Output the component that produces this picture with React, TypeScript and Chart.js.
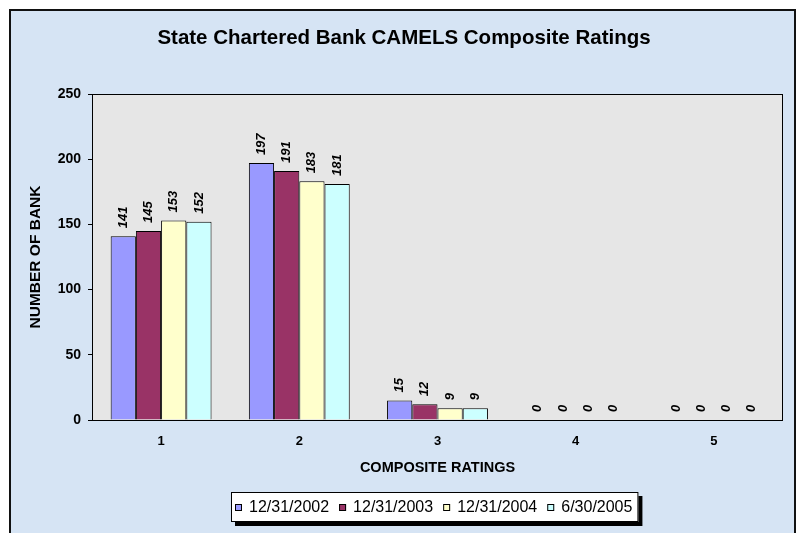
import React, { useEffect, useRef } from 'react';
import { Chart, registerables } from 'chart.js';

Chart.register(...registerables);

const chartTitle = 'State Chartered Bank CAMELS Composite Ratings';
const xAxisTitle = 'COMPOSITE RATINGS';
const yAxisTitle = 'NUMBER OF BANK';
const categories = ['1', '2', '3', '4', '5'];
const seriesLabels = ['12/31/2002', '12/31/2003', '12/31/2004', '6/30/2005'];
const values2002 = [141, 197, 15, 0, 0];
const values2003 = [145, 191, 12, 0, 0];
const values2004 = [153, 183, 9, 0, 0];
const values2005 = [152, 181, 9, 0, 0];
const yMin = 0;
const yMax = 250;
const yStep = 50;
const seriesColors = ['#9999FF', '#993366', '#FFFFCC', '#CCFFFF'];

const FONT = '"Liberation Sans", Arial, Helvetica, sans-serif';
const W = 797;
const H = 533;

const backgroundPlugin = {
  id: 'bgFrame',
  beforeDraw(chart: any) {
    const { ctx, chartArea } = chart;
    ctx.save();
    ctx.fillStyle = '#ffffff';
    ctx.fillRect(0, 0, W, H);
    ctx.fillStyle = '#d6e4f4';
    ctx.fillRect(10, 10, W - 11, H);
    ctx.strokeStyle = '#111111';
    ctx.lineWidth = 2;
    ctx.strokeRect(10, 10, W - 12, H + 10);
    ctx.fillStyle = '#e6e6e6';
    ctx.fillRect(chartArea.left, chartArea.top, chartArea.right - chartArea.left, chartArea.bottom - chartArea.top);
    ctx.restore();
  },
};

const frameAndLabelsPlugin = {
  id: 'frameLabels',
  afterDatasetsDraw(chart: any) {
    const { ctx, chartArea } = chart;
    ctx.save();
    ctx.strokeStyle = '#000000';
    ctx.lineWidth = 1;
    ctx.strokeRect(
      Math.round(chartArea.left) + 0.5,
      Math.round(chartArea.top) + 0.5,
      Math.round(chartArea.right - chartArea.left) - 1,
      Math.round(chartArea.bottom - chartArea.top)
    );
    ctx.fillStyle = '#000000';
    ctx.font = 'italic bold 13px ' + FONT;
    ctx.textAlign = 'left';
    ctx.textBaseline = 'middle';
    chart.data.datasets.forEach((ds: any, di: number) => {
      const meta = chart.getDatasetMeta(di);
      meta.data.forEach((bar: any, i: number) => {
        ctx.save();
        ctx.translate(bar.x, bar.y - 8);
        ctx.rotate(-Math.PI / 2);
        ctx.fillText(String(ds.data[i]), 0, 0);
        ctx.restore();
      });
    });
    ctx.restore();
  },
};

const legendPlugin = {
  id: 'boxLegend',
  afterDraw(chart: any) {
    const { ctx, chartArea } = chart;
    ctx.save();
    ctx.font = '16px ' + FONT;
    const sq = 7;
    const gapSqText = 7;
    const gapItems = 10;
    const widths = chart.data.datasets.map((d: any) => ctx.measureText(d.label).width);
    let total = 0;
    widths.forEach((w: number, i: number) => {
      total += sq + gapSqText + w + (i > 0 ? gapItems : 0);
    });
    const padL = 4;
    const padR = 6;
    const boxW = total + padL + padR;
    const cx = (chartArea.left + chartArea.right) / 2 - 3;
    const left = Math.round(cx - boxW / 2);
    const top = 492;
    const boxH = 30;
    ctx.fillStyle = '#000000';
    ctx.fillRect(left + 4, top + 4, boxW, boxH);
    ctx.fillStyle = '#ffffff';
    ctx.fillRect(left, top, boxW, boxH);
    ctx.strokeStyle = '#000000';
    ctx.lineWidth = 1;
    ctx.strokeRect(left + 0.5, top + 0.5, boxW - 1, boxH - 1);
    let x = left + padL;
    const cy = top + boxH / 2;
    chart.data.datasets.forEach((d: any, i: number) => {
      ctx.fillStyle = d.backgroundColor;
      ctx.fillRect(x, cy - 3, sq, sq);
      ctx.strokeStyle = '#000000';
      ctx.strokeRect(x + 0.5, cy - 3 + 0.5, sq - 1, sq - 1);
      x += sq + gapSqText;
      ctx.fillStyle = '#000000';
      ctx.textAlign = 'left';
      ctx.textBaseline = 'middle';
      ctx.fillText(d.label, x, cy + 1);
      x += widths[i] + gapItems;
    });
    ctx.restore();
  },
};

export default function App() {
  const canvasRef = useRef<HTMLCanvasElement | null>(null);

  useEffect(() => {
    const canvas = canvasRef.current;
    if (!canvas) return;
    const seriesValues = [values2002, values2003, values2004, values2005];
    const chart = new Chart(canvas, {
      type: 'bar',
      data: {
        labels: categories,
        datasets: seriesLabels.map((label, i) => ({
          label,
          data: seriesValues[i],
          backgroundColor: seriesColors[i],
          borderColor: '#000000',
          borderWidth: 1,
          barPercentage: 1,
          categoryPercentage: 0.73,
        })),
      },
      options: {
        responsive: false,
        animation: false,
        devicePixelRatio: 1,
        layout: { padding: { left: 25, right: 14, top: 0, bottom: 53 } },
        plugins: {
          legend: { display: false },
          tooltip: { enabled: false },
          title: {
            display: true,
            text: chartTitle,
            color: '#000000',
            font: { family: FONT, size: 20.5, weight: 'bold' },
            padding: { top: 26.2, bottom: 43.2 },
          },
        },
        scales: {
          x: {
            afterFit: (s: any) => {
              s.height = 60;
            },
            grid: { display: false, drawTicks: false },
            border: { display: false },
            ticks: {
              color: '#000000',
              font: { family: FONT, size: 13, weight: 'bold' },
              padding: 14,
              maxRotation: 0,
            },
            title: {
              display: true,
              text: xAxisTitle,
              color: '#000000',
              font: { family: FONT, size: 14.5, weight: 'bold' },
              padding: { top: 0, bottom: 3 },
            },
          },
          y: {
            min: yMin,
            max: yMax,
            afterFit: (s: any) => {
              s.width = 67;
            },
            grid: {
              display: true,
              drawOnChartArea: false,
              drawTicks: true,
              tickLength: 4,
              color: '#000000',
            },
            border: { display: false },
            ticks: {
              stepSize: yStep,
              color: '#000000',
              font: { family: FONT, size: 14, weight: 'bold' },
              padding: 7,
            },
            title: {
              display: true,
              text: yAxisTitle,
              color: '#000000',
              font: { family: FONT, size: 15.5, weight: 'bold' },
              padding: { top: 1, bottom: 0 },
            },
          },
        },
      } as any,
      plugins: [backgroundPlugin, frameAndLabelsPlugin, legendPlugin],
    });
    return () => {
      chart.destroy();
    };
  }, []);

  return (
    <div style={{ position: 'fixed', left: 0, top: 0, width: W, height: H, overflow: 'hidden' }}>
      <canvas ref={canvasRef} width={W} height={H} style={{ display: 'block', width: W, height: H }} />
    </div>
  );
}
